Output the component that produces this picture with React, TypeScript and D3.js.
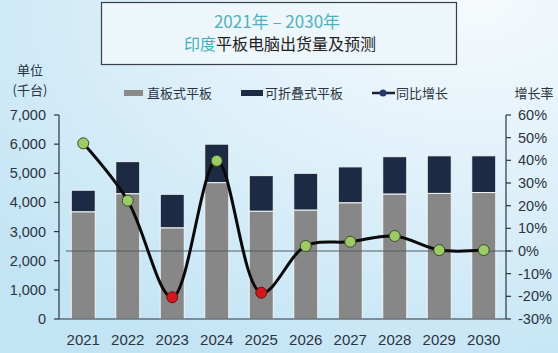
import React from 'react';
import * as d3 from 'd3';

const years = ['2021', '2022', '2023', '2024', '2025', '2026', '2027', '2028', '2029', '2030'];
// 直板式平板 (千台)
const slateValues = [3680, 4300, 3130, 4680, 3700, 3740, 3990, 4290, 4310, 4340];
// 可折叠式平板 (千台)
const foldValues = [740, 1100, 1150, 1320, 1220, 1260, 1230, 1280, 1290, 1260];
// 同比增长 (%)
const growthValues = [47.5, 22.2, -20.4, 39.8, -18.4, 2.2, 4.1, 6.6, 0.4, 0.4];
const leftTicks = [0, 1000, 2000, 3000, 4000, 5000, 6000, 7000];
const rightTicks = [-30, -20, -10, 0, 10, 20, 30, 40, 50, 60];

const W = 558;
const H = 353;
const font = "'Liberation Sans', Arial, sans-serif";
const cjk = "'Noto Sans CJK SC', 'Noto Sans', sans-serif";
const textColor = '#2b3440';

const x = d3.scaleBand().domain(years).range([61, 506]).paddingInner(0.46).paddingOuter(0.23);
const yLeft = d3.scaleLinear().domain([0, 7000]).range([319, 115]);
const yRight = d3.scaleLinear().domain([-30, 60]).range([319, 115]);

export default function App() {
  const cx = (yr: string) => (x(yr) as number) + x.bandwidth() / 2;
  const line = d3
    .line<number>()
    .x((_, i) => cx(years[i]))
    .y((d) => yRight(d))
    .curve(d3.curveCatmullRom.alpha(0.5));

  return (
    <svg width={W} height={H} style={{ position: 'absolute', left: 0, top: 0 }}>
      <defs>
        <radialGradient id="bg" cx="0.85" cy="0" r="1.1">
          <stop offset="0" stopColor="#f6fafc" />
          <stop offset="0.45" stopColor="#e0f1fa" />
          <stop offset="1" stopColor="#c3e4f5" />
        </radialGradient>
      </defs>
      <rect width={W} height={H} fill="url(#bg)" />

      {/* title box */}
      <rect x={101.5} y={2.5} width={355} height={62} fill="#edf6fb" stroke="#3a3f45" strokeWidth={1.2} />
      <text x={277} y={28} textAnchor="middle" fontFamily={cjk} fontSize={17} fill="#4fb1bd">
        2021年 – 2030年
      </text>
      <text x={280} y={50} textAnchor="middle" fontFamily={cjk} fontSize={16}>
        <tspan fill="#3fb0b8">印度</tspan>
        <tspan fill="#222">平板电脑出货量及预测</tspan>
      </text>

      {/* unit labels */}
      <text x={30} y={75} textAnchor="middle" fontFamily={cjk} fontSize={13} fill={textColor}>单位</text>
      <text x={30} y={95} textAnchor="middle" fontFamily={cjk} fontSize={13} fill={textColor}>(千台)</text>
      <text x={534} y={98} textAnchor="middle" fontFamily={cjk} fontSize={13} fill={textColor}>增长率</text>

      {/* legend */}
      <g fontFamily={cjk} fontSize={13} fill={textColor}>
        <rect x={124} y={90} width={19} height={6} fill="#8a8a8a" />
        <text x={147} y={98}>直板式平板</text>
        <rect x={241} y={90} width={22} height={6} fill="#1c2a44" />
        <text x={265} y={98}>可折叠式平板</text>
        <line x1={372} x2={395} y1={93} y2={93} stroke="#1c2233" strokeWidth={2.5} />
        <circle cx={383} cy={93} r={3.5} fill="#243a6b" />
        <text x={396} y={98}>同比增长</text>
      </g>

      {/* bars */}
      {years.map((yr, i) => {
        const x0 = x(yr) as number;
        const w = x.bandwidth();
        const total = slateValues[i] + foldValues[i];
        return (
          <g key={yr}>
            <rect x={x0} y={yLeft(slateValues[i])} width={w} height={yLeft(0) - yLeft(slateValues[i])} fill="#878787" stroke="#f2f6f8" strokeWidth={1} />
            <rect x={x0} y={yLeft(total)} width={w} height={yLeft(slateValues[i]) - yLeft(total)} fill="#1c2a44" stroke="#f2f6f8" strokeWidth={1} />
          </g>
        );
      })}

      {/* zero growth line */}
      <line x1={66} x2={513} y1={yRight(0)} y2={yRight(0)} stroke="#525c62" strokeWidth={1} />

      {/* axes */}
      <g stroke="#2b3440" strokeWidth={1.2} fill="none">
        <line x1={59} x2={59} y1={yLeft(7000)} y2={yLeft(0)} />
        <line x1={59} x2={506} y1={yLeft(0)} y2={yLeft(0)} />
        <line x1={506} x2={506} y1={yRight(60)} y2={yRight(-30)} />
        {leftTicks.map((t) => (
          <line key={t} x1={54} x2={59} y1={yLeft(t)} y2={yLeft(t)} />
        ))}
        {rightTicks.map((t) => (
          <line key={t} x1={506} x2={511} y1={yRight(t)} y2={yRight(t)} />
        ))}
      </g>
      <g fontFamily={font} fontSize={14.5} fill={textColor}>
        {leftTicks.map((t) => (
          <text key={t} x={46} y={yLeft(t) + 5} textAnchor="end">
            {d3.format(',')(t)}
          </text>
        ))}
        {rightTicks.map((t) => (
          <text key={t} x={518} y={yRight(t) + 5}>
            {t}%
          </text>
        ))}
        {years.map((yr) => (
          <text key={yr} x={cx(yr)} y={345} textAnchor="middle" fontSize={15}>
            {yr}
          </text>
        ))}
      </g>

      {/* growth line */}
      <path d={line(growthValues) || ''} fill="none" stroke="#0a0a0a" strokeWidth={3} />
      {growthValues.map((v, i) => (
        <circle
          key={years[i]}
          cx={cx(years[i])}
          cy={yRight(v)}
          r={5.5}
          fill={v < 0 ? '#d0181c' : '#9ccc65'}
          stroke={v < 0 ? '#6a1010' : '#3a4a2a'}
          strokeWidth={1}
        />
      ))}
    </svg>
  );
}
